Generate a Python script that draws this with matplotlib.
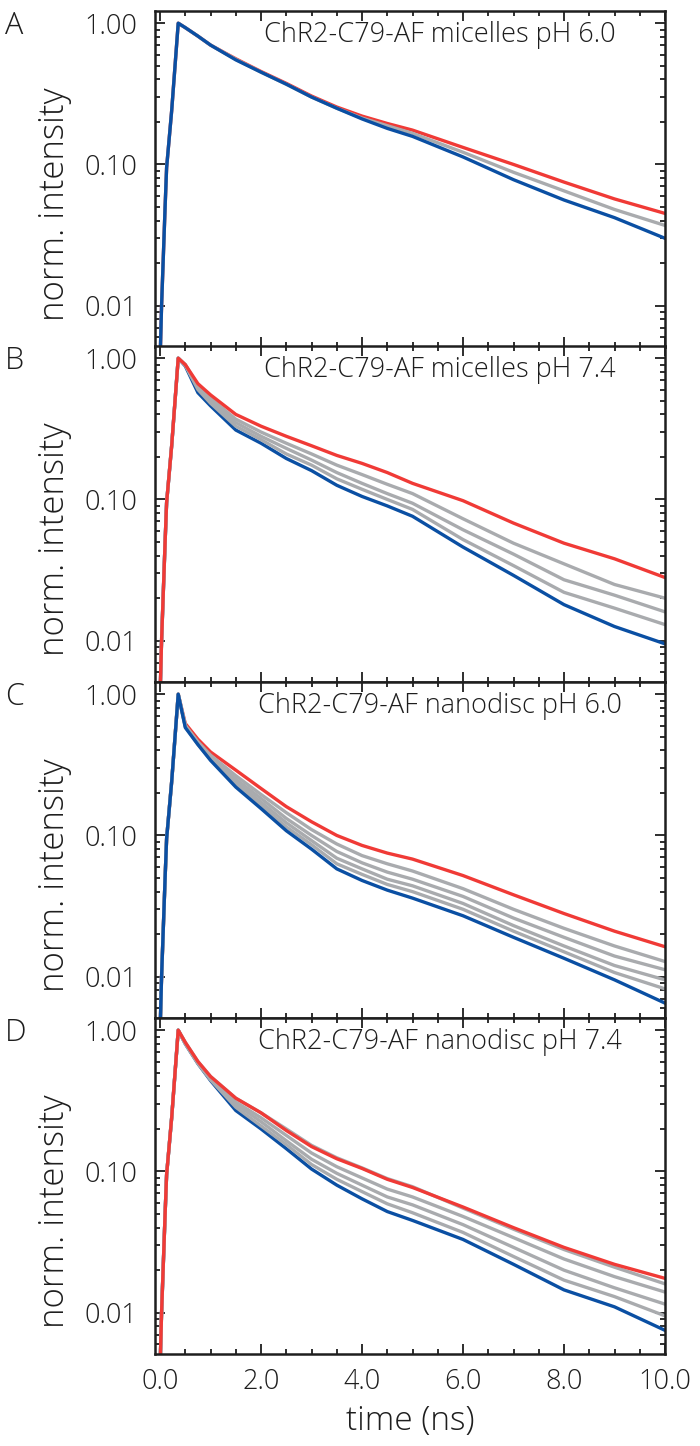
import numpy as np
import matplotlib
matplotlib.use('Agg')
import matplotlib.pyplot as plt
from matplotlib.ticker import MultipleLocator, LogLocator, NullFormatter

plt.rcParams['font.family'] = ['Open Sans', 'DejaVu Sans']
plt.rcParams['font.weight'] = 'light'
plt.rcParams['axes.labelweight'] = 'light'

t = [0.0, 0.03, 0.10, 0.13, 0.23, 0.36, 0.5, 0.75, 1.0, 1.5, 2.0, 2.5, 3.0,
     3.5, 4.0, 4.5, 5.0, 6.0, 7.0, 8.0, 9.0, 10.0]
rise = [0.004, 0.01, 0.05, 0.095, 0.24, 1.0]

# A: micelles pH 6.0
a_red = rise + [0.93, 0.81, 0.70, 0.56, 0.455, 0.375, 0.305, 0.255, 0.22, 0.195, 0.175, 0.132, 0.10, 0.075, 0.057, 0.045]
a_gray = [rise + [0.93, 0.81, 0.70, 0.555, 0.45, 0.37, 0.30, 0.25, 0.213, 0.188, 0.166, 0.122, 0.088, 0.065, 0.048, 0.037]]
a_blue = rise + [0.93, 0.81, 0.70, 0.55, 0.45, 0.37, 0.30, 0.25, 0.21, 0.18, 0.158, 0.113, 0.078, 0.056, 0.042, 0.030]

# B: micelles pH 7.4
b_red = rise + [0.90, 0.66, 0.55, 0.40, 0.33, 0.28, 0.24, 0.205, 0.18, 0.155, 0.13, 0.098, 0.068, 0.049, 0.038, 0.028]
b_gray = [rise + [0.90, 0.64, 0.52, 0.37, 0.30, 0.25, 0.21, 0.175, 0.15, 0.128, 0.11, 0.073, 0.049, 0.035, 0.025, 0.020],
          rise + [0.90, 0.62, 0.50, 0.35, 0.28, 0.23, 0.19, 0.155, 0.13, 0.11, 0.094, 0.061, 0.041, 0.027, 0.021, 0.016],
          rise + [0.89, 0.60, 0.48, 0.33, 0.265, 0.21, 0.175, 0.14, 0.118, 0.10, 0.085, 0.052, 0.034, 0.022, 0.017, 0.013]]
b_blue = rise + [0.88, 0.57, 0.46, 0.31, 0.25, 0.195, 0.16, 0.126, 0.105, 0.09, 0.076, 0.046, 0.029, 0.018, 0.0126, 0.0095]

# C: nanodisc pH 6.0
c_red = rise + [0.62, 0.48, 0.39, 0.29, 0.215, 0.16, 0.125, 0.10, 0.085, 0.075, 0.068, 0.052, 0.038, 0.028, 0.021, 0.0163]
c_gray = [rise + [0.60, 0.46, 0.37, 0.265, 0.195, 0.145, 0.11, 0.087, 0.072, 0.063, 0.056, 0.042, 0.030, 0.022, 0.0165, 0.0128],
          rise + [0.60, 0.45, 0.36, 0.25, 0.183, 0.132, 0.10, 0.077, 0.064, 0.055, 0.049, 0.037, 0.026, 0.019, 0.014, 0.0112],
          rise + [0.59, 0.45, 0.35, 0.24, 0.172, 0.123, 0.092, 0.069, 0.058, 0.049, 0.044, 0.033, 0.023, 0.0165, 0.012, 0.0095],
          rise + [0.59, 0.44, 0.345, 0.23, 0.163, 0.115, 0.086, 0.063, 0.053, 0.045, 0.040, 0.030, 0.021, 0.015, 0.0107, 0.0082]]
c_blue = rise + [0.58, 0.44, 0.34, 0.22, 0.155, 0.108, 0.08, 0.058, 0.048, 0.041, 0.036, 0.027, 0.019, 0.0135, 0.0095, 0.0065]

# D: nanodisc pH 7.4
d_red = rise + [0.82, 0.60, 0.47, 0.33, 0.26, 0.195, 0.15, 0.123, 0.105, 0.088, 0.077, 0.056, 0.040, 0.029, 0.022, 0.0175]
d_gray = [rise + [0.82, 0.60, 0.47, 0.33, 0.26, 0.20, 0.153, 0.125, 0.106, 0.089, 0.078, 0.055, 0.039, 0.028, 0.021, 0.016],
          rise + [0.81, 0.59, 0.46, 0.31, 0.24, 0.18, 0.135, 0.108, 0.09, 0.075, 0.066, 0.048, 0.034, 0.024, 0.018, 0.014],
          rise + [0.81, 0.59, 0.45, 0.30, 0.225, 0.165, 0.122, 0.097, 0.08, 0.066, 0.058, 0.042, 0.029, 0.020, 0.015, 0.0115],
          rise + [0.80, 0.58, 0.445, 0.285, 0.21, 0.155, 0.112, 0.088, 0.072, 0.059, 0.051, 0.037, 0.025, 0.017, 0.013, 0.0095]]
d_blue = rise + [0.80, 0.58, 0.44, 0.27, 0.20, 0.145, 0.104, 0.08, 0.064, 0.052, 0.045, 0.033, 0.022, 0.0145, 0.011, 0.0075]

letters = ['A', 'B', 'C', 'D']
titles = ['ChR2-C79-AF micelles pH 6.0', 'ChR2-C79-AF micelles pH 7.4',
          'ChR2-C79-AF nanodisc pH 6.0', 'ChR2-C79-AF nanodisc pH 7.4']
panels = [(a_red, a_gray, a_blue, 'blue'), (b_red, b_gray, b_blue, 'red'),
          (c_red, c_gray, c_blue, 'blue'), (d_red, d_gray, d_blue, 'red')]

RED = '#f03a36'
BLUE = '#0a4fa3'
GRAY = '#a9abae'
INK = '#1e1e1e'

fig = plt.figure(figsize=(7, 14.46), dpi=100)
left, right = 155 / 700, 665 / 700
tops = [11, 346, 682, 1018]
h = 336

for i, (red, grays, blue, ontop) in enumerate(panels):
    y0 = 1 - (tops[i] + h) / 1446
    ax = fig.add_axes([left, y0, right - left, h / 1446])
    lw = 2.4
    if ontop == 'blue':
        ax.plot(t, red, color=RED, lw=lw)
        for g in grays:
            ax.plot(t, g, color=GRAY, lw=lw)
        ax.plot(t, blue, color=BLUE, lw=lw)
    else:
        ax.plot(t, blue, color=BLUE, lw=lw)
        for g in grays:
            ax.plot(t, g, color=GRAY, lw=lw)
        ax.plot(t, red, color=RED, lw=lw)

    ax.set_yscale('log')
    ax.set_ylim(0.0051, 1.22)
    ax.set_xlim(-0.1, 10.0)
    ax.set_yticks([0.01, 0.1, 1.0])
    ax.set_yticklabels(['0.01', '0.10', '1.00'])
    ax.yaxis.set_minor_locator(LogLocator(base=10, subs=np.arange(2, 10)))
    ax.yaxis.set_minor_formatter(NullFormatter())
    ax.xaxis.set_major_locator(MultipleLocator(2))
    ax.xaxis.set_minor_locator(MultipleLocator(0.5))
    ax.tick_params(which='both', direction='in', top=True, right=True, width=1.3,
                   labelsize=19.5, colors=INK)
    ax.tick_params(axis='y', which='major', length=7, pad=13)
    ax.tick_params(axis='x', which='major', length=7, pad=10)
    ax.tick_params(which='minor', length=3.5)
    for s in ax.spines.values():
        s.set_linewidth(1.8)
        s.set_color(INK)
    ax.text(-0.196, 0.424, 'norm. intensity', transform=ax.transAxes, rotation=90,
            ha='center', va='center', fontsize=25, color=INK)
    ax.text(0.559, 0.928, titles[i], transform=ax.transAxes, ha='center',
            va='center', fontsize=19.5, color=INK)
    ax.text(-0.294, 1.003, letters[i], transform=ax.transAxes, ha='left',
            va='top', fontsize=22, color=INK)
    if i < 3:
        ax.set_xticklabels([])
    else:
        ax.set_xticklabels(['%.1f' % v for v in ax.get_xticks()])
        ax.set_xlabel('time (ns)', fontsize=24, fontweight='light', color=INK,
                      labelpad=6)

fig.savefig('out.png', dpi=100)
